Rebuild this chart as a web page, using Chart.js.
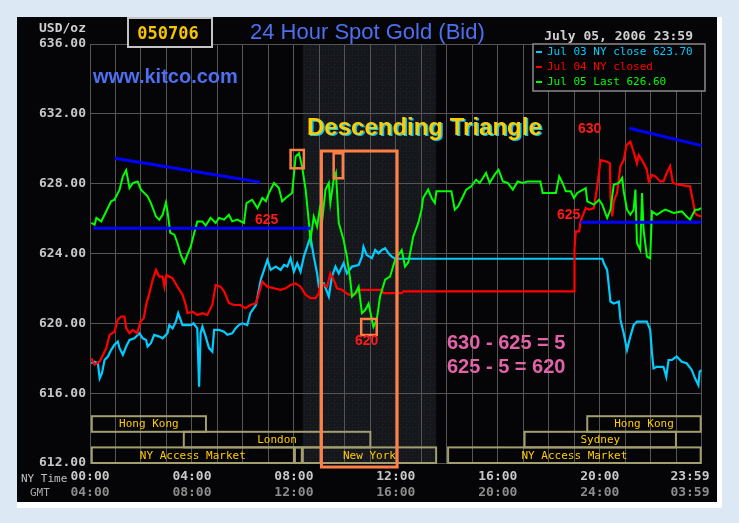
<!DOCTYPE html>
<html>
<head>
<meta charset="utf-8">
<script src="https://cdn.jsdelivr.net/npm/chart.js@4.4.0/dist/chart.umd.min.js"></script>
<style>
  html, body { margin: 0; padding: 0; background: #dde8f5; }
  canvas { display: block; }
</style>
</head>
<body>
<canvas id="grafico" width="739" height="523"></canvas>
<script>
// Hora de NY (decimal) y precio
const horasJul03 = [0.05,0.18,0.31,0.38,0.47,0.57,0.70,0.83,0.96,1.09,
  1.16,1.29,1.42,1.55,1.74,1.94,2.07,2.20,2.26,2.39,
  2.52,2.72,2.85,3.04,3.11,3.24,3.37,3.46,3.63,3.95,
  4.06,4.21,4.28,4.34,4.41,4.54,4.67,4.80,4.87,5.06,
  5.26,5.39,5.58,5.71,5.84,5.97,6.17,6.29,6.51,6.70,
  6.83,6.96,7.09,7.29,7.48,7.61,7.74,7.87,8.00,8.13,
  8.26,8.39,8.52,8.65,8.78,8.91,8.98,9.17,9.37,9.49,
  9.63,9.76,9.95,10.08,10.28,10.54,10.67,10.73,10.86,11.06,
  11.19,11.32,11.45,11.58,11.71,11.84,11.97,20.10,20.16,20.29,
  20.36,20.42,20.55,20.75,20.81,20.94,21.07,21.20,21.33,21.46,
  21.85,21.98,22.05,22.11,22.24,22.50,22.61,22.70,22.83,23.02,
  23.22,23.41,23.61,23.74,23.87,23.92,23.98];
const preciosJul03 = [617.71,617.80,617.71,616.85,617.14,617.90,618.10,618.48,618.77,618.95,
  618.58,618.20,618.67,619.05,619.14,619.43,619.14,619.05,618.67,618.86,
  619.34,619.24,619.14,619.43,619.90,619.71,620.10,620.58,619.90,619.90,
  620.00,619.71,616.37,619.43,619.81,619.24,618.58,618.38,619.62,619.62,
  619.52,619.34,619.43,619.71,619.90,620.00,619.90,620.58,621.05,622.50,
  623.06,623.63,623.06,623.25,623.06,623.34,623.25,623.73,622.96,623.44,
  622.96,623.82,624.39,624.96,623.82,622.86,622.10,622.29,621.54,622.67,
  623.25,622.86,623.44,622.86,623.25,623.34,623.82,624.39,623.91,623.73,
  624.20,624.01,624.20,624.30,624.01,623.82,623.70,623.70,623.44,623.06,
  622.10,621.25,621.14,621.25,620.21,619.43,618.48,619.24,619.90,620.10,
  620.10,619.62,618.28,617.42,617.51,617.51,616.94,617.90,617.90,618.10,
  617.80,617.71,617.33,616.85,616.47,617.23,617.33];

const horasJul04 = [0.05,0.18,0.38,0.51,0.64,0.77,0.96,1.09,1.22,1.35,
  1.42,1.55,1.68,1.85,1.98,2.11,2.20,2.33,2.46,2.59,
  2.72,2.85,2.92,3.00,3.24,3.43,3.63,3.76,3.82,4.02,
  4.21,4.41,4.60,4.80,4.93,5.12,5.26,5.45,5.65,5.90,
  6.10,6.29,6.51,6.63,6.76,6.96,7.22,7.48,7.68,7.87,
  8.07,8.26,8.46,8.65,8.85,8.98,9.04,9.17,9.30,9.43,
  9.56,9.69,9.88,10.15,10.34,10.54,10.60,11.45,11.51,12.23,
  12.29,18.99,19.01,19.06,19.19,19.25,19.32,19.45,19.58,19.77,
  19.90,20.03,20.29,20.40,20.42,20.49,20.55,20.68,20.81,20.94,
  21.05,21.20,21.33,21.46,21.53,21.66,21.85,21.92,22.05,22.18,
  22.37,22.50,22.63,22.76,22.87,23.09,23.54,23.67,23.74,23.80,
  23.98];
const preciosJul04 = [618.00,617.63,617.82,618.20,618.58,619.34,619.52,620.21,620.39,620.39,
  619.72,619.43,619.62,619.43,620.10,620.29,621.05,621.73,622.50,623.06,
  622.67,622.67,622.10,622.77,622.58,622.10,621.64,621.05,620.58,620.67,
  620.48,620.58,620.48,621.05,622.20,622.10,621.83,621.17,621.05,621.05,
  620.87,621.05,621.14,621.73,622.39,622.10,622.01,621.92,622.01,622.20,
  622.29,622.10,621.64,621.44,621.44,621.73,622.29,622.20,622.10,622.86,
  622.50,622.01,621.92,621.64,621.64,621.83,621.92,621.92,621.73,621.73,
  621.83,621.83,624.30,625.27,625.27,625.84,626.12,626.60,626.51,626.60,
  627.85,629.35,629.26,629.16,627.27,626.12,626.99,627.47,628.99,629.35,
  630.21,630.40,629.83,629.16,629.64,629.35,628.80,628.13,628.50,628.42,
  628.13,628.13,628.61,628.99,628.04,627.94,627.85,626.89,626.32,626.22,
  626.12];

const horasJul05 = [0.05,0.18,0.25,0.44,0.57,0.83,0.96,1.16,1.29,1.42,
  1.55,1.68,1.87,2.00,2.26,2.39,2.59,2.72,2.85,2.98,
  3.04,3.15,3.31,3.43,3.56,3.70,3.82,3.95,4.09,4.21,
  4.41,4.54,4.73,4.93,5.06,5.26,5.45,5.58,5.78,6.04,
  6.14,6.36,6.57,6.76,6.90,7.02,7.22,7.41,7.54,7.68,
  7.93,8.07,8.20,8.32,8.46,8.59,8.65,8.78,8.91,9.01,
  9.10,9.24,9.37,9.43,9.56,9.65,9.76,9.95,10.08,10.21,
  10.28,10.41,10.54,10.67,10.80,10.93,11.12,11.25,11.38,11.58,
  11.77,11.97,12.23,12.36,12.49,12.68,12.88,13.01,13.07,13.27,
  13.40,13.53,13.59,14.18,14.31,14.44,14.57,14.76,14.96,15.15,
  15.29,15.54,15.68,15.87,16.03,16.20,16.39,16.59,16.78,16.98,
  17.17,17.67,17.76,18.28,18.41,18.54,18.67,18.86,18.99,19.12,
  19.45,19.51,19.77,19.97,20.10,20.29,20.42,20.55,20.75,20.88,
  20.94,21.07,21.20,21.33,21.40,21.46,21.59,21.66,21.72,21.85,
  21.98,22.05,22.24,22.44,22.57,22.90,23.22,23.41,23.54,23.74,
  23.87,23.98];
const preciosJul05 = [625.75,625.65,626.04,625.84,626.22,626.99,627.08,627.66,628.42,628.77,
  627.75,628.04,628.13,627.66,627.27,626.89,626.12,625.94,626.22,626.93,
  626.41,625.18,625.08,624.60,623.93,623.46,623.93,624.39,625.18,625.84,
  625.84,625.60,626.04,625.75,626.04,625.94,626.22,625.84,625.94,625.75,
  626.89,627.08,626.60,627.18,626.99,627.47,628.04,627.75,626.99,627.18,
  627.47,629.56,629.75,628.99,627.66,625.75,624.77,626.12,625.55,626.51,
  625.75,627.66,628.04,626.89,628.23,628.61,625.75,624.77,623.82,622.50,
  621.54,621.73,622.10,620.58,620.76,621.14,619.80,620.19,621.54,622.50,
  622.67,623.63,624.20,623.25,623.50,624.96,625.75,626.51,627.18,627.66,
  627.18,626.89,627.56,627.56,626.51,626.70,627.08,627.66,627.85,628.23,
  628.04,628.61,628.04,628.50,628.80,628.13,628.04,627.66,628.13,628.04,
  628.13,628.13,627.47,627.47,628.42,628.04,627.56,627.56,627.18,627.47,
  627.75,626.99,626.80,627.08,626.80,626.04,626.51,627.94,628.04,628.33,
  627.56,626.51,626.22,626.51,627.66,624.60,624.20,627.47,625.35,623.82,
  623.72,626.41,626.22,626.41,626.51,626.32,626.41,626.12,625.94,626.51,
  626.51,626.60];

// Etiquetas de los ejes
const ticksNY = ['00:00', '04:00', '08:00', '12:00', '16:00', '20:00', '23:59'];
const ticksGMT = ['04:00', '08:00', '12:00', '16:00', '20:00', '24:00', '03:59'];
const ticksPrecio = [612, 616, 620, 624, 628, 632, 636];

// Leyenda
const etiquetasSeries = ['Jul 03 NY close 623.70', 'Jul 04 NY closed', 'Jul 05 Last 626.60'];

// Sesiones de mercado [nombre, inicio, fin, fila]
const sesiones = [
  ['Hong Kong', 0.07, 4.55, 0],
  ['London', 3.68, 11.0, 1],
  ['NY Access Market', 0.07, 8.0, 2],
  ['', 8.04, 8.31, 2],
  ['New York', 8.35, 13.58, 2],
  ['NY Access Market', 14.05, 23.96, 2],
  ['Sydney', 17.05, 22.99, 1],
  ['Hong Kong', 19.51, 23.96, 0]
];
const sombraNY = [8.35, 13.58];

// Líneas de tendencia [[hora, precio], [hora, precio]]
const tendencias = [
  [[0.98, 629.45], [6.67, 628.08]],
  [[0.13, 625.44], [8.66, 625.44]],
  [[21.16, 631.17], [24.0, 630.18]],
  [[19.25, 625.79], [24.0, 625.79]]
];

// Cajas naranjas [hora1, hora2, precio1, precio2]
const cajas = [
  [7.87, 8.39, 629.93, 628.88],
  [9.08, 12.05, 629.87, 611.77],
  [9.56, 9.92, 629.74, 628.31],
  [10.64, 11.25, 620.25, 619.33]
];

const colores = ['#00ccff', '#ff0000', '#00ff00'];
const MONO = '"DejaVu Sans Mono", monospace';
const SANS = '"Liberation Sans", Arial, sans-serif';

function puntos(horas, precios) {
  return horas.map((h, i) => ({ x: h, y: precios[i] }));
}

function crearTrama(ctx) {
  const c = document.createElement('canvas');
  c.width = 6; c.height = 6;
  const g = c.getContext('2d');
  g.fillStyle = '#16171b'; g.fillRect(0, 0, 6, 6);
  g.fillStyle = '#1b2642'; g.fillRect(1, 1, 1, 1); g.fillRect(4, 4, 1, 1);
  g.fillStyle = '#222222'; g.fillRect(4, 1, 1, 1);
  return ctx.createPattern(c, 'repeat');
}

const fondoPanel = {
  id: 'fondoPanel',
  beforeDraw(chart) {
    const { ctx, chartArea: a, scales: { x } } = chart;
    ctx.save();
    ctx.fillStyle = '#dde8f5';
    ctx.fillRect(0, 0, chart.width, chart.height);
    ctx.fillStyle = '#ffffff';
    ctx.fillRect(17, 17, 705, 491);
    ctx.fillStyle = '#050507';
    ctx.fillRect(17, 17, 700, 485);
    const x1 = x.getPixelForValue(sombraNY[0]);
    const x2 = x.getPixelForValue(sombraNY[1]);
    ctx.fillStyle = crearTrama(ctx);
    ctx.fillRect(x1, a.top, x2 - x1, a.bottom - a.top);
    ctx.restore();
  }
};

const sesionesPlugin = {
  id: 'sesiones',
  beforeDatasetsDraw(chart) {
    const { ctx, chartArea: a, scales: { x } } = chart;
    const alto = 15.6;
    ctx.save();
    ctx.lineWidth = 2;
    ctx.strokeStyle = '#a39e70';
    ctx.font = '11px ' + MONO;
    ctx.textAlign = 'center';
    ctx.textBaseline = 'middle';
    sesiones.forEach(([nombre, ini, fin, fila]) => {
      const x1 = x.getPixelForValue(ini);
      const x2 = x.getPixelForValue(fin);
      const y1 = a.bottom - (3 - fila) * alto;
      ctx.strokeRect(x1, y1, x2 - x1, alto);
      ctx.fillStyle = '#ffcc00';
      if (nombre) ctx.fillText(nombre, (x1 + x2) / 2, y1 + alto / 2 + 0.5);
    });
    ctx.restore();
  }
};

const anotaciones = {
  id: 'anotaciones',
  afterDatasetsDraw(chart) {
    const { ctx, scales: { x, y } } = chart;
    ctx.save();
    // cajas naranjas
    ctx.strokeStyle = '#ff7f45';
    cajas.forEach(([h1, h2, p1, p2], i) => {
      const x1 = x.getPixelForValue(h1), x2 = x.getPixelForValue(h2);
      const y1 = y.getPixelForValue(p1), y2 = y.getPixelForValue(p2);
      ctx.lineWidth = i === 1 ? 3 : 2.5;
      ctx.strokeRect(x1, y1, x2 - x1, y2 - y1);
    });

    // leyenda
    ctx.fillStyle = '#050507';
    ctx.fillRect(533, 44, 172, 47);
    ctx.strokeStyle = '#8a8a8a';
    ctx.lineWidth = 1.5;
    ctx.strokeRect(533, 44, 172, 47);
    ctx.font = '11px ' + MONO;
    ctx.textBaseline = 'middle';
    ctx.textAlign = 'left';
    etiquetasSeries.forEach((t, i) => {
      const yy = 52 + i * 15;
      ctx.fillStyle = colores[i];
      ctx.fillRect(536, yy - 1, 6, 2);
      ctx.fillText(t, 547, yy);
    });

    // textos rojos
    ctx.fillStyle = '#ff1a1a';
    ctx.font = 'bold 14px ' + SANS;
    ctx.textBaseline = 'alphabetic';
    ctx.fillText('625', 255, 224);
    ctx.fillText('620', 355, 345);
    ctx.fillText('630', 578, 133);
    ctx.fillText('625', 557, 219);

    // fórmula
    ctx.fillStyle = '#e363a8';
    ctx.font = 'bold 20px ' + SANS;
    ctx.fillText('630 - 625 = 5', 447, 349);
    ctx.fillText('625 - 5 = 620', 447, 373);

    // título del patrón
    ctx.font = 'bold 24px ' + SANS;
    ctx.fillStyle = '#00c8ff';
    ctx.fillText('Descending Triangle', 308.5, 136);
    ctx.fillStyle = '#ffcc00';
    ctx.fillText('Descending Triangle', 307, 135);
    ctx.restore();
  },
  afterDraw(chart) {
    const { ctx } = chart;
    ctx.save();
    // caja con la fecha
    ctx.fillStyle = '#050507';
    ctx.fillRect(128, 17, 84, 30);
    ctx.strokeStyle = '#c4c4c4';
    ctx.lineWidth = 2;
    ctx.strokeRect(128, 18, 84, 29);
    ctx.fillStyle = '#f5c400';
    ctx.font = 'bold 17px ' + MONO;
    ctx.textAlign = 'center';
    ctx.textBaseline = 'alphabetic';
    ctx.fillText('050706', 168, 39);

    ctx.fillStyle = '#4d6ff0';
    ctx.font = '22px ' + SANS;
    ctx.textAlign = 'left';
    ctx.fillText('24 Hour Spot Gold (Bid)', 250, 39);
    ctx.font = 'bold 20px ' + SANS;
    ctx.fillText('www.kitco.com', 93, 83);

    ctx.fillStyle = '#d0d0d0';
    ctx.font = 'bold 13px ' + MONO;
    ctx.textAlign = 'right';
    ctx.fillText('July 05, 2006 23:59', 693, 40);
    ctx.fillText('USD/oz', 86, 32);

    ctx.font = '11px ' + MONO;
    ctx.textAlign = 'left';
    ctx.textBaseline = 'middle';
    ctx.fillStyle = '#c0c0c0';
    ctx.fillText('NY Time', 21, 479);
    ctx.fillStyle = '#a8a8a8';
    ctx.fillText('GMT', 30, 493);
    ctx.restore();
  }
};

const datasetsTendencia = tendencias.map(t => ({
  data: t.map(([h, p]) => ({ x: h, y: p })),
  borderColor: '#0000ff',
  borderWidth: 3,
  pointRadius: 0
}));

new Chart(document.getElementById('grafico'), {
  type: 'line',
  data: {
    datasets: [
      ...datasetsTendencia,
      { label: etiquetasSeries[2], data: puntos(horasJul05, preciosJul05), borderColor: colores[2], borderWidth: 2 },
      { label: etiquetasSeries[1], data: puntos(horasJul04, preciosJul04), borderColor: colores[1], borderWidth: 2.2 },
      { label: etiquetasSeries[0], data: puntos(horasJul03, preciosJul03), borderColor: colores[0], borderWidth: 2.2 }
    ]
  },
  options: {
    responsive: false,
    animation: false,
    devicePixelRatio: 1,
    layout: { padding: { left: 0, right: 34, top: 44, bottom: 22 } },
    elements: { point: { radius: 0 }, line: { tension: 0 } },
    plugins: { legend: { display: false }, tooltip: { enabled: false } },
    scales: {
      x: {
        type: 'linear', min: 0, max: 24, weight: 0,
        afterFit: s => { s.height = 22; },
        grid: { color: '#555555', drawTicks: false },
        border: { color: '#555555' },
        ticks: {
          stepSize: 1, autoSkip: false, maxRotation: 0, padding: 6,
          color: '#c8c8c8', font: { family: MONO, size: 13, weight: 'bold' },
          callback: v => v % 4 === 0 ? (v === 24 ? ticksNY[6] + '   ' : ticksNY[v / 4]) : ''
        }
      },
      x2: {
        type: 'linear', position: 'bottom', min: 0, max: 24, weight: 1,
        afterFit: s => { s.height = 16; },
        grid: { display: false, drawTicks: false },
        border: { display: false },
        ticks: {
          stepSize: 1, autoSkip: false, maxRotation: 0, padding: 0,
          color: '#8c8c8c', font: { family: MONO, size: 13, weight: 'bold' },
          callback: v => v % 4 === 0 ? (v === 24 ? ticksGMT[6] + '   ' : ticksGMT[v / 4]) : ''
        }
      },
      y: {
        min: ticksPrecio[0], max: ticksPrecio[ticksPrecio.length - 1],
        afterFit: s => { s.width = 90; },
        afterBuildTicks: s => { s.ticks = ticksPrecio.map(v => ({ value: v })); },
        grid: { color: '#555555', drawTicks: false },
        border: { color: '#555555' },
        ticks: {
          padding: 4, color: '#c8c8c8',
          font: { family: MONO, size: 13, weight: 'bold' },
          callback: v => v.toFixed(2)
        }
      }
    }
  },
  plugins: [fondoPanel, sesionesPlugin, anotaciones]
});
</script>
</body>
</html>
